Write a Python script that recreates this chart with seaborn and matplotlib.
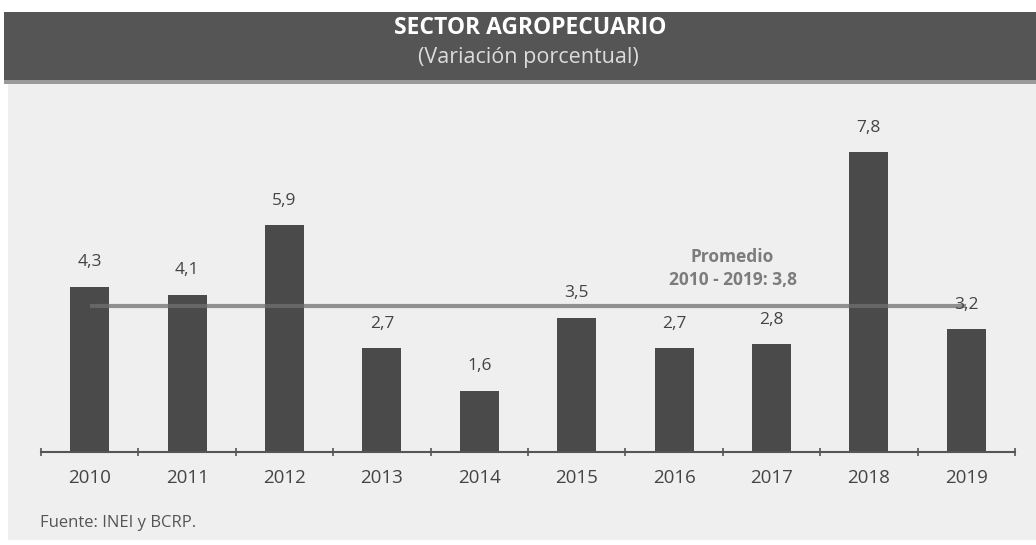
import matplotlib
matplotlib.use("Agg")
import matplotlib.pyplot as plt
from matplotlib.patches import Rectangle
import seaborn as sns
import pandas as pd
import numpy as np

# Datos: variación porcentual anual del sector agropecuario
anios = ["2010", "2011", "2012", "2013", "2014", "2015", "2016", "2017", "2018", "2019"]
variacion = [4.3, 4.1, 5.9, 2.7, 1.6, 3.5, 2.7, 2.8, 7.8, 3.2]
promedio = 3.8

titulo = "SECTOR AGROPECUARIO"
subtitulo = "(Variación porcentual)"
fuente = "Fuente: INEI y BCRP."

sns.set_theme(style="white")
plt.rcParams["font.family"] = ["Open Sans", "DejaVu Sans"]

W, H = 1036, 545
fig = plt.figure(figsize=(W / 100, H / 100), dpi=100)
fig.patch.set_facecolor("white")


def px_rect(x0, y0, x1, y1, color, z):
    """Rectángulo en píxeles de figura (origen arriba a la izquierda)."""
    fig.patches.append(Rectangle((x0 / W, 1 - y1 / H), (x1 - x0) / W, (y1 - y0) / H,
                                 transform=fig.transFigure, facecolor=color,
                                 edgecolor="none", zorder=z))


# Fondo gris claro del cuerpo y banda oscura del encabezado
px_rect(8, 83, W, 540, "#efefef", -3)
px_rect(4, 79, W, 84, "#9a9a9a", -2)
px_rect(4, 12, W, 80, "#555555", -1)

fig.text(530 / W, 1 - 28 / H, titulo, ha="center", va="center",
         color="white", fontsize=16.5, fontweight="bold")
fig.text(528 / W, 1 - 57 / H, subtitulo, ha="center", va="center",
         color="#dcdcdc", fontsize=15.5)

# Eje: 10 categorías entre x=41 y x=1015 px, 38.4 px por punto porcentual
ax = fig.add_axes([41 / W, (H - 452) / H, 974 / W, 9 * 38.4 / H])
ax.set_facecolor("none")

df = pd.DataFrame({"anio": anios, "variacion": variacion})
sns.barplot(data=df, x="anio", y="variacion", color="#4a4a4a",
            saturation=1, width=0.40, ax=ax, zorder=2)
for p in ax.patches:
    p.set_edgecolor("none")

# Línea del promedio 2010-2019 (semitransparente sobre las barras)
ax.plot([0, 9], [promedio, promedio], color="#707070", alpha=0.75, lw=3,
        zorder=3, solid_capstyle="butt")
ax.text(6.6, promedio + 1.27, "Promedio", ha="center", va="center",
        color="#7c7c7c", fontsize=12.5, fontweight="bold")
ax.text(6.6, promedio + 0.69, "2010 - 2019: " + f"{promedio:.1f}".replace(".", ","),
        ha="center", va="center", color="#7c7c7c", fontsize=12.5,
        fontweight="bold")

# Etiquetas de valor sobre cada barra
for i, v in enumerate(variacion):
    ax.text(i, v + 0.64, f"{v:.1f}".replace(".", ","), ha="center",
            va="center", color="#444444", fontsize=12.5)

ax.set_xlim(-0.5, 9.5)
ax.set_ylim(0, 9)
ax.set_xlabel("")
ax.set_ylabel("")
ax.set_yticks([])
for s in ["top", "right", "left"]:
    ax.spines[s].set_visible(False)
ax.spines["bottom"].set_color("#555555")
ax.spines["bottom"].set_linewidth(1.5)
ax.set_xticks(np.arange(-0.5, 10, 1), minor=True)
ax.tick_params(axis="x", which="minor", bottom=True, length=6, width=1.2,
               color="#555555", direction="inout")
ax.tick_params(axis="x", which="major", length=0, pad=12,
               labelsize=13.5, labelcolor="#444444")

fig.text(40 / W, 1 - 523 / H, fuente, ha="left", va="center",
         color="#555555", fontsize=12)

fig.savefig("out.png", dpi=100, facecolor=fig.get_facecolor())
